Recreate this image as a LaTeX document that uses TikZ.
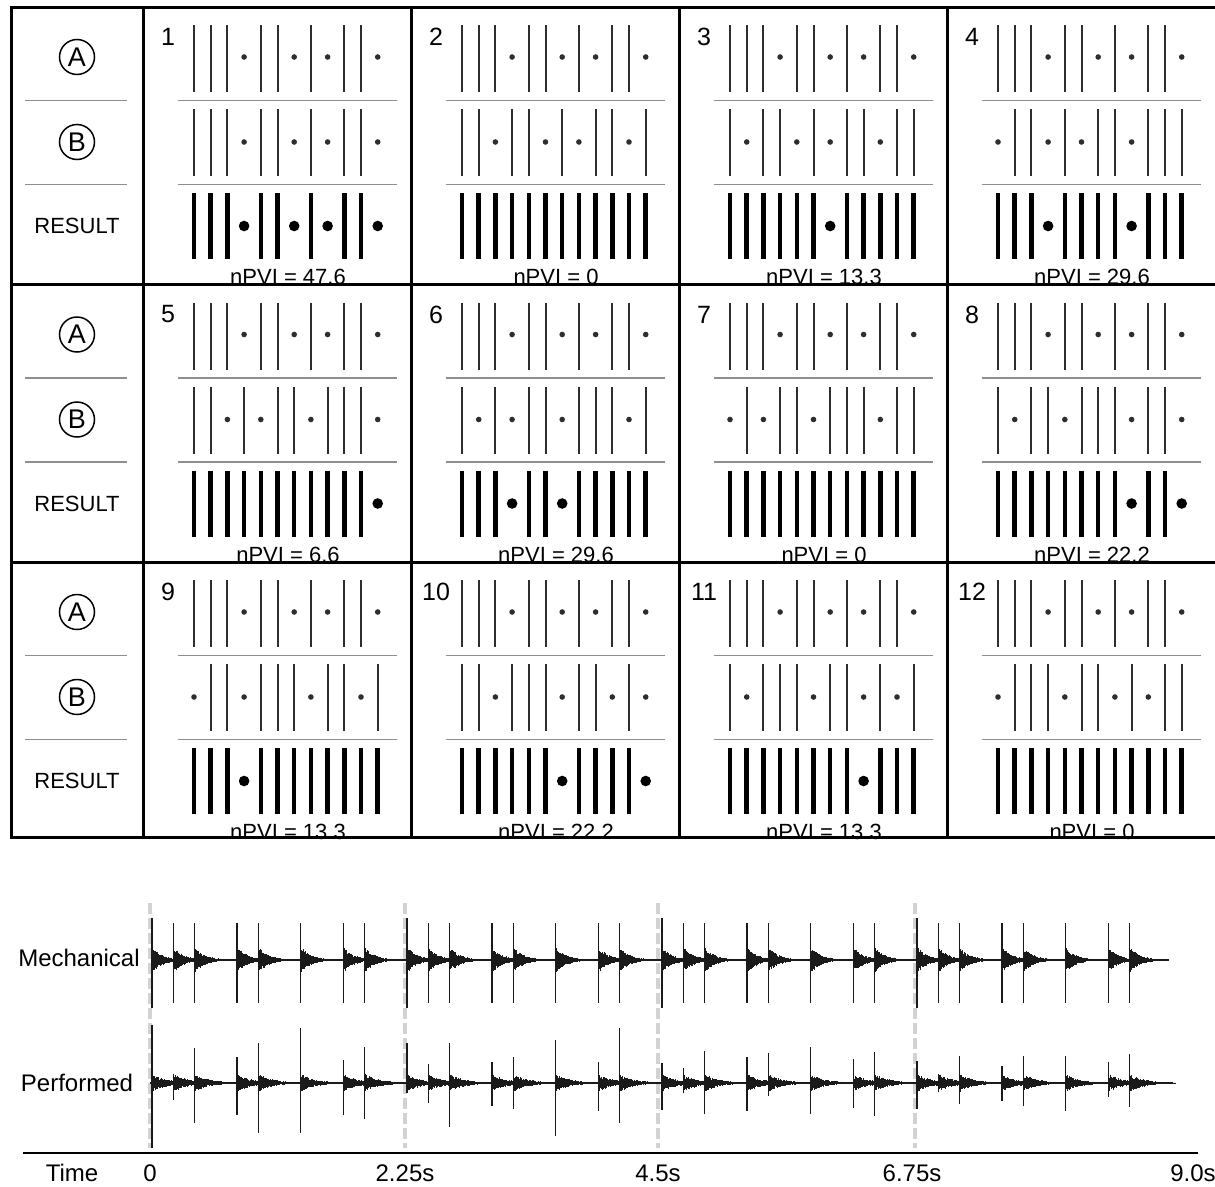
\documentclass[tikz,border=0pt]{standalone}
\usepackage{fontspec}
\setmainfont{Liberation Sans}
\usetikzlibrary{positioning}
\definecolor{RhythmInk}{HTML}{2E2E2E}
\definecolor{RuleGray}{HTML}{8E8E8E}
\definecolor{BeatGray}{HTML}{D2D2D2}
\definecolor{WaveInk}{HTML}{1A1A1A}
\newcommand{\panelsize}{\fontsize{22}{26}\selectfont}
\newcommand{\numsize}{\fontsize{25}{29}\selectfont}
\newcommand{\wavesize}{\fontsize{24}{28}\selectfont}
% clave A, the same in every panel (1 = stroke, 0 = rest)
\def\Apattern{{1,1,1,0,1,1,0,1,0,1,1,0}}

\tikzset{
  frame/.style={draw=black, line width=3pt},
  rule/.style={draw=RuleGray, line width=1.6pt},
  thinbeat/.style={draw=RhythmInk, line width=2pt},
  thickbeat/.style={draw=black, line width=4.5pt},
  circlab/.style={circle, draw=black, line width=1.5pt, minimum size=35pt, inner sep=0pt, font=\fontsize{27}{31}\selectfont},
  rowlab/.style={font=\panelsize},
  numlab/.style={font=\numsize},
  pvilab/.style={font=\panelsize, anchor=base, inner sep=0pt},
  wavelab/.style={font=\wavesize},
  beatline/.style={draw=BeatGray, line width=4pt, dash pattern=on 11pt off 4pt},
  spike/.style={draw=WaveInk, line width=1.2pt},
  ring/.style={draw=WaveInk, line width=0.8pt},
  waveaxis/.style={draw=WaveInk, line width=2.2pt},
  axisline/.style={draw=black, line width=2.5pt}
}

\begin{document}
\begin{tikzpicture}[x=1pt,y=-1pt]
  \useasboundingbox (0,0) rectangle (1215,1186);
  \clip (0,0) rectangle (1215,1186);

  % row labels
  \foreach \row in {0,1,2} {
    \pgfmathsetmacro\py{7+277.5*\row}
    \node[circlab] (labA\row) at (77,\py+50) {A};
    \node[circlab] (labB\row) at (77,\py+135) {B};
    \node[rowlab] (labR\row) at (77,\py+219) {RESULT};
    \draw[rule] (25,\py+93.5) -- (127,\py+93.5);
    \draw[rule] (25,\py+177.5) -- (127,\py+177.5);
  }

  % the twelve panels
  \foreach \n/\bl/\pvi in {
    1/{1,1,1,0,1,1,0,1,0,1,1,0}/47.6,
    2/{1,1,0,1,1,0,1,0,1,1,0,1}/0,
    3/{1,0,1,1,0,1,0,1,1,0,1,1}/13.3,
    4/{0,1,1,0,1,0,1,1,0,1,1,1}/29.6,
    5/{1,1,0,1,0,1,1,0,1,1,1,0}/6.6,
    6/{1,0,1,0,1,1,0,1,1,1,0,1}/29.6,
    7/{0,1,0,1,1,0,1,1,1,0,1,1}/0,
    8/{1,0,1,1,0,1,1,1,0,1,1,0}/22.2,
    9/{0,1,1,0,1,1,1,0,1,1,0,1}/13.3,
    10/{1,1,0,1,1,1,0,1,1,0,1,0}/22.2,
    11/{1,0,1,1,1,0,1,1,0,1,0,1}/13.3,
    12/{0,1,1,1,0,1,1,0,1,0,1,1}/0} {
    \pgfmathtruncatemacro\col{mod(\n-1,4)}
    \pgfmathtruncatemacro\row{div(\n-1,4)}
    \pgfmathsetmacro\px{143+268*\col}
    \pgfmathsetmacro\py{7+277.5*\row}
    \node[numlab] (num\n) at (\px+25,\py+30) {\n};
    \draw[rule] (\px+35,\py+93.5) -- (\px+254,\py+93.5);
    \draw[rule] (\px+35,\py+177.5) -- (\px+254,\py+177.5);
    % A
    \foreach \av [count=\pos from 0] in {1,1,1,0,1,1,0,1,0,1,1,0} {
      \pgfmathsetmacro\tx{\px+51+16.7*\pos}
      \ifnum\av=1 \draw[thinbeat] (\tx,\py+18) -- (\tx,\py+85);
      \else \fill[RhythmInk] (\tx,\py+50) circle (2.8pt); \fi
    }
    % B and result
    \foreach \bv [count=\pos from 0] in \bl {
      \pgfmathsetmacro\tx{\px+51+16.7*\pos}
      \pgfmathtruncatemacro\rv{max(\bv,\Apattern[\pos])}
      \ifnum\bv=1 \draw[thinbeat] (\tx,\py+102) -- (\tx,\py+169);
      \else \fill[RhythmInk] (\tx,\py+135) circle (2.8pt); \fi
      \ifnum\rv=1 \draw[thickbeat] (\tx,\py+186) -- (\tx,\py+252);
      \else \fill (\tx,\py+219) circle (5.3pt); \fi
    }
    \node[pvilab] (pvi\n) at (\px+145,\py+277.5) {nPVI = \pvi};
  }

  % grid
  \draw[frame] (1230,7) -- (11,7) -- (11,837) -- (1230,837);
  \foreach \x in {143,411,679,947} \draw[frame] (\x,7) -- (\x,837);
  \foreach \y in {284.5,562} \draw[frame] (11,\y) -- (1230,\y);

  % recordings
  \node[wavelab] (mech) at (79,958) {Mechanical};
  \node[wavelab] (perf) at (77,1083) {Performed};
  \foreach \x in {150,405,658,915} \draw[beatline] (\x,903) -- (\x,1148);

  \pgfmathsetseed{31}
  \draw[waveaxis] (152,960) -- (1169,960);
  \foreach \cyc in {0,...,3} {
    \foreach \pk in {0,1,2,4,5,7,9,10} {
      \pgfmathsetmacro\hx{152+255*\cyc+21.25*\pk}
      \pgfmathsetmacro\hu{\pk==0 ? 42 : 37}
      \pgfmathsetmacro\hd{\pk==0 ? 48 : 43}
      \draw[spike] (\hx,960-\hu) -- (\hx,960+\hd);
      \draw[ring] \foreach \dt in {0,0.45,...,36} {
        (\hx+\dt,{960-13*exp(-\dt/11)*(0.6+0.4*rnd)}) -- (\hx+\dt,{960+13*exp(-\dt/11)*(0.6+0.4*rnd)})
      };
    }
  }

  \draw[waveaxis] (150,1083) -- (1169,1083);
  \foreach \cyc/\pk/\hu/\hd in {
    0/0/58/65, 0/1/6/17, 0/2/35/40, 0/4/26/32, 0/5/40/50, 0/7/55/50, 0/9/23/32, 0/10/36/36,
    1/0/40/10, 1/1/19/20, 1/2/40/44, 1/4/21/23, 1/5/26/26, 1/7/43/53, 1/9/21/28, 1/10/55/40,
    2/0/20/27, 2/1/15/10, 2/2/32/31, 2/4/26/28, 2/5/30/13, 2/7/36/31, 2/9/24/25, 2/10/31/33,
    3/0/22/26, 3/1/9/9, 3/2/27/21, 3/4/17/18, 3/5/27/23, 3/7/27/28, 3/9/21/14, 3/10/29/24} {
    \pgfmathsetmacro\hx{152+255*\cyc+21.25*\pk}
    \draw[spike] (\hx,1083-\hu) -- (\hx,1083+\hd);
    \draw[ring] \foreach \dt in {0,0.45,...,46} {
      (\hx+\dt,{1083-9*exp(-\dt/16)*(0.5+0.5*rnd)}) -- (\hx+\dt,{1083+9*exp(-\dt/16)*(0.5+0.5*rnd)})
    };
  }

  % time axis
  \draw[axisline] (23,1153) -- (1198,1153);
  \node[wavelab] (tlab) at (72,1173) {Time};
  \node[wavelab] (t0) at (150,1173) {0};
  \node[wavelab] (t1) at (405,1173) {2.25s};
  \node[wavelab] (t2) at (658,1173) {4.5s};
  \node[wavelab] (t3) at (912,1173) {6.75s};
  \node[wavelab] (t4) at (1193,1173) {9.0s};
\end{tikzpicture}
\end{document}
